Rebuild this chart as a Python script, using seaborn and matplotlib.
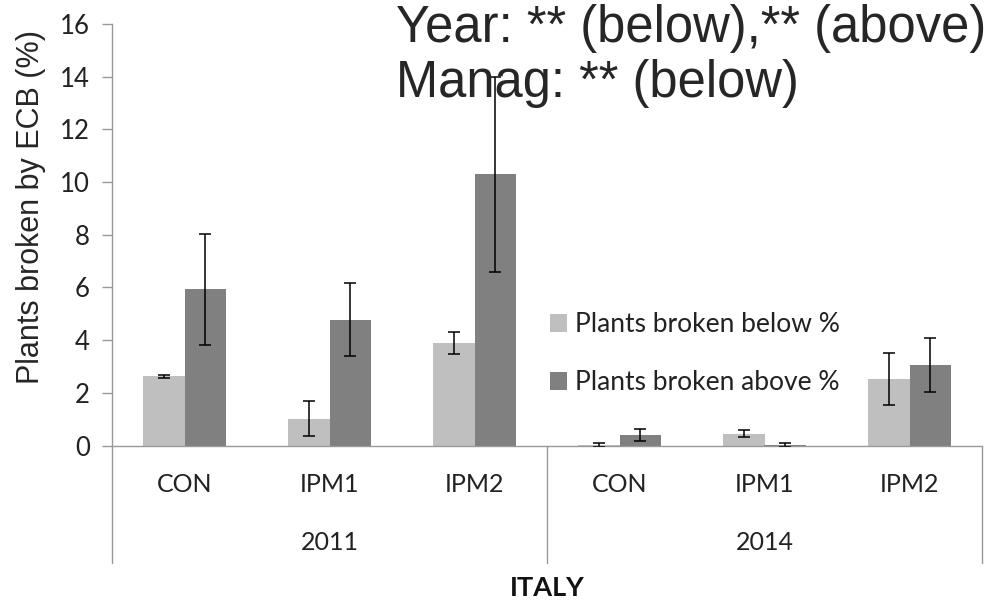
import numpy as np
import pandas as pd
import matplotlib
matplotlib.use("Agg")
import matplotlib.pyplot as plt
import matplotlib.transforms as mtransforms
import seaborn as sns

# ── Data ──────────────────────────────────────────────────────
years = ["2011", "2011", "2011", "2014", "2014", "2014"]
managements = ["CON", "IPM1", "IPM2", "CON", "IPM1", "IPM2"]
below_mean = [2.62, 1.02, 3.90, 0.03, 0.45, 2.52]
below_err = [0.07, 0.66, 0.41, 0.07, 0.12, 1.00]
above_mean = [5.93, 4.78, 10.30, 0.40, 0.03, 3.05]
above_err = [2.10, 1.38, 3.70, 0.22, 0.07, 1.02]
series_names = ["Plants broken below %", "Plants broken above %"]
y_ticks = [0, 2, 4, 6, 8, 10, 12, 14, 16]

keys = [f"{y} {m}" for y, m in zip(years, managements)]
df = pd.DataFrame({
    "key": keys * 2,
    "series": [series_names[0]] * 6 + [series_names[1]] * 6,
    "value": below_mean + above_mean,
    "err": below_err + above_err,
})

# ── Figure ────────────────────────────────────────────────────
sns.set_style("white")
plt.rcParams["font.family"] = ["Lato", "DejaVu Sans"]

W, H = 986, 601
fig = plt.figure(figsize=(W / 100, H / 100), dpi=100)
ax = fig.add_axes([112 / W, 1 - 445.5 / H, 870 / W, 421.5 / H])

palette = {series_names[0]: "#BFBFBF", series_names[1]: "#808080"}
sns.barplot(data=df, x="key", y="value", hue="series", order=keys,
            hue_order=series_names, palette=palette, errorbar=None,
            width=0.566, saturation=1, linewidth=0, ax=ax)

# error bars at the centres of the seaborn bars
for cont, s in zip(ax.containers, series_names):
    sub = df[df["series"] == s].set_index("key").loc[keys]
    xs = [p.get_x() + p.get_width() / 2 for p in cont.patches]
    ax.errorbar(xs, sub["value"], yerr=sub["err"], fmt="none",
                ecolor="black", elinewidth=1.1, capsize=4, capthick=1.1,
                zorder=3)

ax.set_ylim(0, 16)
ax.set_xlim(-0.5, 5.5)
ax.set_yticks(y_ticks)
ax.tick_params(axis="y", length=7, width=1, color="#999999", pad=9,
               labelsize=18.5, direction="out", left=True)
ax.tick_params(axis="x", length=0, pad=20, labelsize=18)
ax.set_xticks(range(6))
ax.set_xticklabels(managements, color="#222222")
ax.set_xlabel("")
ax.set_ylabel("")
for lab in ax.get_yticklabels():
    lab.set_color("#222222")

for side in ["top", "right"]:
    ax.spines[side].set_visible(False)
for side in ["left", "bottom"]:
    ax.spines[side].set_color("#999999")
    ax.spines[side].set_linewidth(1)

# category table lines below the axis
trans = mtransforms.blended_transform_factory(ax.transData, ax.transAxes)
for xv in [-0.5, 2.5, 5.5]:
    ax.plot([xv, xv], [0, -(563 - 445.5) / 421.5], color="#999999",
            lw=1, transform=trans, clip_on=False)

# year labels
for xv, yr in [(1, "2011"), (4, "2014")]:
    ax.text(xv, -(543 - 445.5) / 421.5, yr, transform=trans, ha="center",
            va="center", fontsize=18, color="#222222")

fig.text(547 / W, 1 - 588 / H, "ITALY", ha="center", va="center",
         fontsize=19.5, fontweight="bold", color="#111111")

fig.text(31 / W, 1 - 207 / H, "Plants broken by ECB (%)", rotation=90,
         ha="center", va="center", fontsize=22,
         family=["Liberation Sans", "DejaVu Sans"])

fig.text(396 / W, 1 - 4 / H, "Year: ** (below),** (above)", ha="left",
         va="top", fontsize=36.5, family=["Liberation Sans", "DejaVu Sans"])
fig.text(396 / W, 1 - 59 / H, "Manag: ** (below)", ha="left",
         va="top", fontsize=36.5, family=["Liberation Sans", "DejaVu Sans"])

ax.legend(loc="upper left", bbox_to_anchor=(550 / W, 1 - 312 / H),
          bbox_transform=fig.transFigure, frameon=False, fontsize=19,
          handlelength=0.65, handleheight=0.65, handletextpad=0.3,
          labelspacing=1.25, borderpad=0, borderaxespad=0,
          labelcolor="#222222")

fig.savefig("out.png", dpi=100)
